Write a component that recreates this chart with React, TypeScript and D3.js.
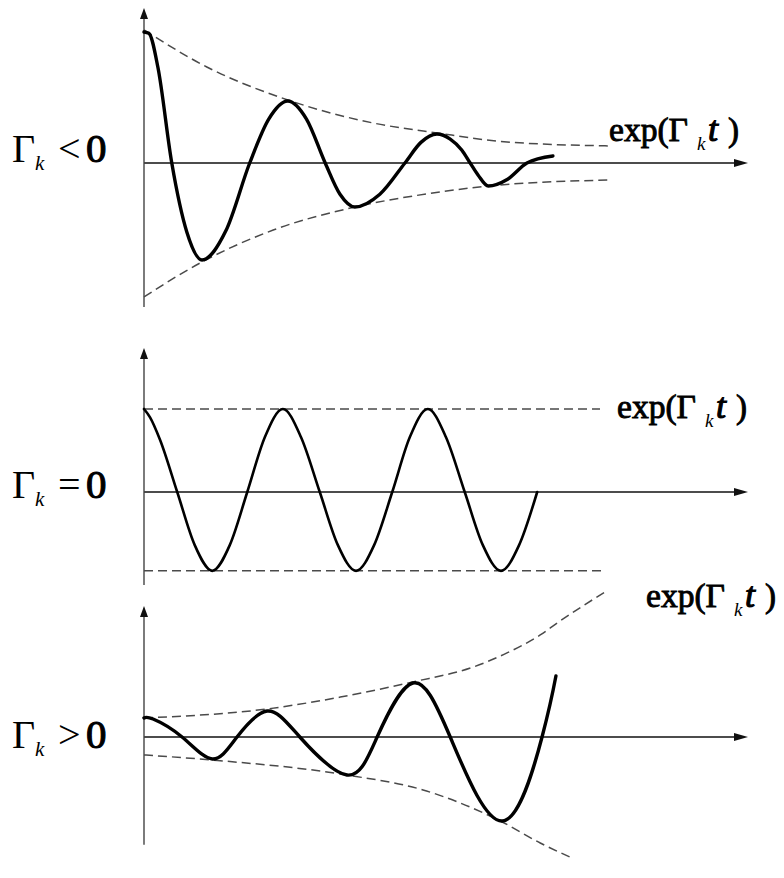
import React from "react";
import * as d3 from "d3";

const WIDTH = 784;
const HEIGHT = 878;

// Time axis is shared by the three regimes (arbitrary units).
const T_DOMAIN: [number, number] = [0, 10];

// Γk < 0 : damped oscillation
const decayT = [0, 0.08, 0.23, 0.46, 0.71, 0.96, 1.355, 1.75, 2.065, 2.38, 2.69, 3.0, 3.245, 3.49, 3.905, 4.32, 4.585, 4.85, 5.07, 5.26, 5.4, 5.53, 5.7, 6.02, 6.34, 6.77];
const decayV = [0.985, 0.975, 0.72, 0, -0.52, -0.729, -0.51, 0, 0.33, 0.466, 0.33, 0, -0.235, -0.331, -0.235, 0, 0.155, 0.218, 0.18, 0.098, 0, -0.09, -0.173, -0.122, 0, 0.053];
// decaying envelope ±exp(Γk t)
const decayUpperT = [0, 1.04, 2.38, 3.79, 4.85, 6.01, 7.75];
const decayUpperV = [1.0, 0.722, 0.474, 0.301, 0.226, 0.158, 0.128];
const decayLowerT = [0, 0.96, 2.14, 3.49, 4.9, 5.7, 7.72];
const decayLowerV = [-1.007, -0.744, -0.504, -0.331, -0.218, -0.173, -0.128];

// Γk = 0 : undamped oscillation
const steadyT = [0, 0.1, 0.265, 0.55, 0.84, 1.13, 1.42, 1.71, 2.0, 2.3, 2.6, 2.91, 3.21, 3.51, 3.81, 4.11, 4.4, 4.7, 5.0, 5.31, 5.61, 5.91, 6.21, 6.51];
const steadyV = [1, 0.9, 0.63, 0, -0.64, -0.95, -0.64, 0, 0.66, 1, 0.66, 0, -0.64, -0.95, -0.64, 0, 0.66, 1, 0.66, 0, -0.64, -0.95, -0.64, 0];
// constant envelope
const steadyUpperT = [0, 7.55];
const steadyUpperV = [1, 1];
const steadyLowerT = [0, 7.6];
const steadyLowerV = [-0.95, -0.95];

// Γk > 0 : growing oscillation (start, extrema and zero crossings)
const growT = [0, 0.15, 0.63, 1.13, 1.54, 2.04, 2.58, 3.36, 3.86, 4.45, 5.07, 5.93, 6.59, 6.82];
const growV = [0.143, 0.135, 0, -0.165, 0, 0.195, 0, -0.286, 0, 0.406, 0, -0.632, 0, 0.459];
// growing envelope ±exp(Γk t)
const growUpperT = [0, 2.04, 3.25, 4.45, 5.45, 6.01, 6.56, 6.84, 7.63];
const growUpperV = [0.143, 0.211, 0.3, 0.414, 0.526, 0.632, 0.767, 0.857, 1.09];
const growLowerT = [0, 1.13, 3.36, 4.62, 5.93, 6.56, 7.05];
const growLowerV = [-0.135, -0.173, -0.286, -0.398, -0.639, -0.797, -0.902];

const regimeSigns = ["<", "=", ">"];
const envelopeText = "exp(Γ";
const subscriptText = "k";
const timeText = "t";

type Pt = [number, number];
const zip = (t: number[], v: number[]): Pt[] => t.map((ti, i) => [ti, v[i]]);

interface PanelSpec {
  center: number; // pixel row of the time axis
  unit: number; // pixels per amplitude unit
  axisTop: number; // vertical axis extent, amplitude units
  axisBottom: number;
  curve: Pt[];
  curveFactory: d3.CurveFactory;
  upper: Pt[];
  lower: Pt[];
  curveWidth: number;
  sign: string;
  labelBaseline: number;
  expX: number;
  expBaseline: number;
}

const panels: PanelSpec[] = [
  {
    center: 163,
    unit: 133,
    axisTop: 1.165,
    axisBottom: -1.083,
    curve: zip(decayT, decayV),
    curveFactory: d3.curveMonotoneX,
    upper: zip(decayUpperT, decayUpperV),
    lower: zip(decayLowerT, decayLowerV),
    curveWidth: 3.4,
    sign: regimeSigns[0],
    labelBaseline: 162,
    expX: 609,
    expBaseline: 141,
  },
  {
    center: 492,
    unit: 83,
    axisTop: 1.735,
    axisBottom: -1.12,
    curve: zip(steadyT, steadyV),
    curveFactory: d3.curveMonotoneX,
    upper: zip(steadyUpperT, steadyUpperV),
    lower: zip(steadyLowerT, steadyLowerV),
    curveWidth: 2.6,
    sign: regimeSigns[1],
    labelBaseline: 498,
    expX: 617,
    expBaseline: 418,
  },
  {
    center: 737,
    unit: 133,
    axisTop: 0.985,
    axisBottom: -0.81,
    curve: zip(growT, growV),
    curveFactory: d3.curveNatural,
    upper: zip(growUpperT, growUpperV),
    lower: zip(growLowerT, growLowerV),
    curveWidth: 3.4,
    sign: regimeSigns[2],
    labelBaseline: 748,
    expX: 646,
    expBaseline: 607,
  },
];

const SERIF = "Liberation Serif, Times New Roman, serif";
const xScale = d3.scaleLinear().domain(T_DOMAIN).range([144, 748]);

// heavier strokes on the regular face give the bold look
const heavy = { stroke: "#000", strokeWidth: 0.9, paintOrder: "stroke" as const };

function Panel({ p }: { p: PanelSpec }) {
  const yScale = d3
    .scaleLinear()
    .domain([-1, 1])
    .range([p.center + p.unit, p.center - p.unit]);

  const envelopeLine = d3
    .line<Pt>()
    .x((d) => xScale(d[0]))
    .y((d) => yScale(d[1]))
    .curve(d3.curveMonotoneX);
  const waveLine = d3
    .line<Pt>()
    .x((d) => xScale(d[0]))
    .y((d) => yScale(d[1]))
    .curve(p.curveFactory);

  const x0 = xScale(0);
  const y0 = yScale(0);
  const xEnd = xScale(T_DOMAIN[1]);
  const yTop = yScale(p.axisTop);
  const yBottom = yScale(p.axisBottom);

  return (
    <g>
      {/* time axis with arrow */}
      <line x1={x0} x2={xEnd - 10} y1={y0} y2={y0} stroke="#111" strokeWidth={1.4} />
      <path
        d={`M${xEnd},${y0} L${xEnd - 14},${y0 - 4} L${xEnd - 14},${y0 + 4} Z`}
        fill="#111"
      />
      {/* amplitude axis with arrow */}
      <line x1={x0} x2={x0} y1={yBottom} y2={yTop + 8} stroke="#444" strokeWidth={1.4} />
      <path
        d={`M${x0},${yTop} L${x0 - 4},${yTop + 11} L${x0 + 4},${yTop + 11} Z`}
        fill="#111"
      />
      {/* envelopes */}
      {[p.upper, p.lower].map((env, i) => (
        <path
          key={i}
          d={envelopeLine(env) || ""}
          fill="none"
          stroke="#4a4a4a"
          strokeWidth={1.5}
          strokeDasharray="9,5"
        />
      ))}
      {/* oscillation */}
      <path
        d={waveLine(p.curve) || ""}
        fill="none"
        stroke="#000"
        strokeWidth={p.curveWidth}
        strokeLinejoin="round"
        strokeLinecap="round"
      />
      {/* regime label */}
      <g fontFamily={SERIF} fill="#000">
        <text x={12} y={p.labelBaseline} fontSize={40}>
          Γ
        </text>
        <text x={35} y={p.labelBaseline + 8} fontSize={21} fontStyle="italic">
          {subscriptText}
        </text>
        <text x={58} y={p.labelBaseline} fontSize={40}>
          {p.sign}
        </text>
        <text x={86} y={p.labelBaseline} fontSize={41} {...heavy} strokeWidth={1.1}>
          0
        </text>
      </g>
      {/* envelope label */}
      <g fontFamily={SERIF} fill="#000">
        <text
          x={p.expX}
          y={p.expBaseline}
          fontSize={33}
          textLength={79}
          lengthAdjust="spacingAndGlyphs"
          {...heavy}
        >
          {envelopeText}
        </text>
        <text x={p.expX + 88} y={p.expBaseline + 9} fontSize={19} fontStyle="italic">
          {subscriptText}
        </text>
        <text
          x={p.expX + 99}
          y={p.expBaseline}
          fontSize={36}
          fontStyle="italic"
          {...heavy}
          strokeWidth={1.1}
        >
          {timeText}
        </text>
        <text x={p.expX + 119} y={p.expBaseline} fontSize={33} {...heavy}>
          )
        </text>
      </g>
    </g>
  );
}

export default function App() {
  return (
    <svg
      width={WIDTH}
      height={HEIGHT}
      viewBox={`0 0 ${WIDTH} ${HEIGHT}`}
      style={{ position: "absolute", left: 0, top: 0, display: "block", background: "#fff" }}
    >
      <rect width={WIDTH} height={HEIGHT} fill="#fff" />
      {panels.map((p, i) => (
        <Panel key={i} p={p} />
      ))}
    </svg>
  );
}
